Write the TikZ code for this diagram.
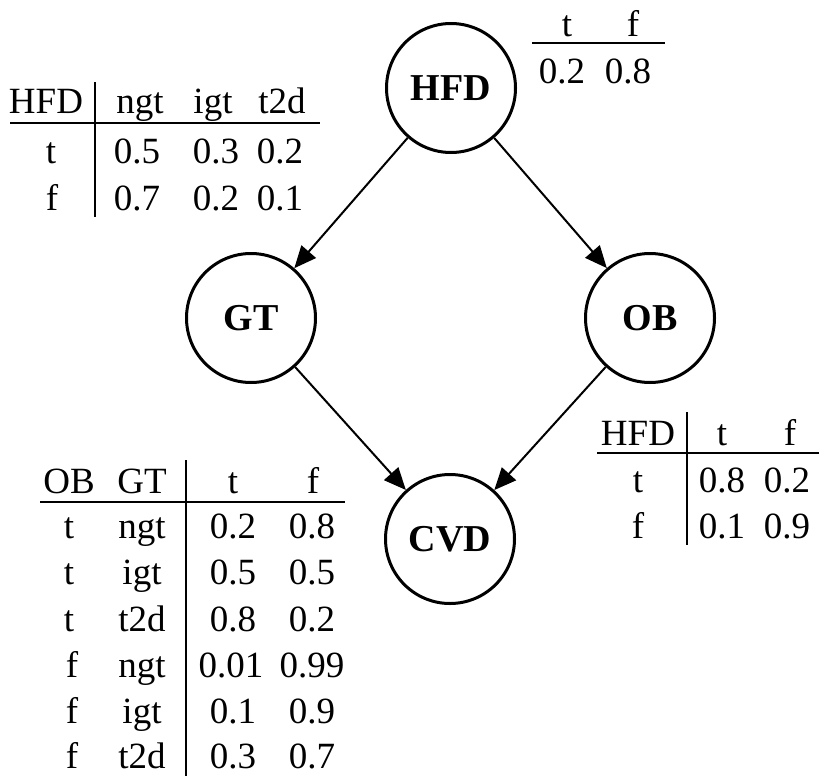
\documentclass[tikz,border=0pt]{standalone}
\usepackage{fontspec}
\setmainfont{Liberation Serif}
\usetikzlibrary{arrows.meta}
\begin{document}
\begin{tikzpicture}[x=1pt,y=-1pt,
  bn/.style={circle,draw,line width=3pt,minimum size=129pt,inner sep=0pt,font=\fontsize{38}{40}\selectfont\bfseries},
  cell/.style={anchor=base,inner sep=0pt,font=\fontsize{37}{40}\selectfont},
  lastcell/.style={cell,text depth=0pt},
  tabrule/.style={line width=2pt},
  edge/.style={line width=2pt,-{Triangle[length=22pt,width=19pt]}}]
\useasboundingbox (0,0) rectangle (819,776);
% network
\node[bn] (hfd) at (451,88) {HFD};
\node[bn] (gt) at (251,318) {GT};
\node[bn] (ob) at (650,318) {OB};
\node[bn] (cvd) at (450,539) {CVD};
\draw[edge] (hfd) -- (gt);
\draw[edge] (hfd) -- (ob);
\draw[edge] (gt) -- (cvd);
\draw[edge] (ob) -- (cvd);
% table 1 (GT | HFD)
\node[cell] (a00) at (46,113) {HFD};
\node[cell] (a01) at (140,113) {ngt};
\node[cell] (a02) at (213,113) {igt};
\node[cell] (a03) at (282,113) {t2d};
\node[cell] (a10) at (51,163) {t};
\node[cell] (a11) at (137,163) {0.5};
\node[cell] (a12) at (216,163) {0.3};
\node[cell] (a13) at (280,163) {0.2};
\node[cell] (a20) at (52,210) {f};
\node[cell] (a21) at (137,210) {0.7};
\node[cell] (a22) at (216,210) {0.2};
\node[cell] (a23) at (280,210) {0.1};
\draw[tabrule] (10,123) -- (320,123);
\draw[tabrule] (95,82) -- (95,217);
% table 2 (HFD prior)
\node[cell] (b01) at (567,37) {t};
\node[cell] (b02) at (633,37) {f};
\node[cell] (b11) at (562,83) {0.2};
\node[cell] (b12) at (628,83) {0.8};
\draw[tabrule] (532,43) -- (665,43);
% table 3 (OB | HFD)
\node[cell] (c00) at (638,445) {HFD};
\node[cell] (c01) at (722,445) {t};
\node[cell] (c02) at (790,445) {f};
\node[cell] (c10) at (638,492) {t};
\node[cell] (c11) at (722,492) {0.8};
\node[cell] (c12) at (787,492) {0.2};
\node[cell] (c20) at (638,538) {f};
\node[cell] (c21) at (722,538) {0.1};
\node[cell] (c22) at (787,538) {0.9};
\draw[tabrule] (597,453) -- (819,453);
\draw[tabrule] (687,412) -- (687,545);
% table 4 (CVD | OB, GT)
\node[cell] (d00) at (69,493) {OB};
\node[cell] (d01) at (142,493) {GT};
\node[cell] (d02) at (233,493) {t};
\node[cell] (d03) at (313,493) {f};
\node[cell] (d10) at (69,538) {t};
\node[cell] (d11) at (142,538) {ngt};
\node[cell] (d12) at (233,538) {0.2};
\node[cell] (d13) at (312,538) {0.8};
\node[cell] (d20) at (69,584) {t};
\node[cell] (d21) at (142,584) {igt};
\node[cell] (d22) at (233,584) {0.5};
\node[cell] (d23) at (312,584) {0.5};
\node[cell] (d30) at (69,631) {t};
\node[cell] (d31) at (142,631) {t2d};
\node[cell] (d32) at (233,631) {0.8};
\node[cell] (d33) at (312,631) {0.2};
\node[cell] (d40) at (72,677) {f};
\node[cell] (d41) at (142,677) {ngt};
\node[cell] (d42) at (231,677) {0.01};
\node[cell] (d43) at (312,677) {0.99};
\node[cell] (d50) at (72,723) {f};
\node[cell] (d51) at (142,723) {igt};
\node[cell] (d52) at (233,723) {0.1};
\node[cell] (d53) at (312,723) {0.9};
\node[lastcell] (d60) at (72,768) {f};
\node[lastcell] (d61) at (142,768) {t2d};
\node[lastcell] (d62) at (233,768) {0.3};
\node[lastcell] (d63) at (312,768) {0.7};
\draw[tabrule] (40,502) -- (345,502);
\draw[tabrule] (186,460) -- (186,776);
\end{tikzpicture}
\end{document}
